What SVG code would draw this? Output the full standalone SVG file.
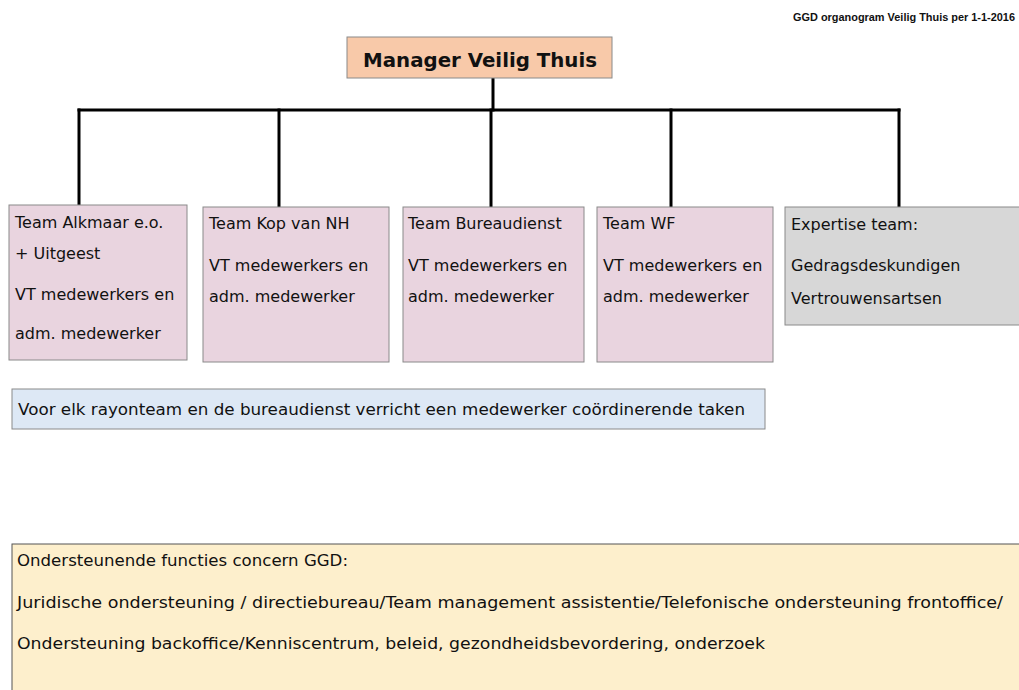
<svg xmlns="http://www.w3.org/2000/svg" width="1019" height="690" viewBox="0 0 1019 690">
<style>
  text { font-family: "DejaVu Sans", "Liberation Sans", sans-serif; fill: #111; }
  .t { font-size: 16px; }
  .b { font-size: 15.5px; }
  .box { stroke: #8a8a8a; stroke-width: 1; }
  .team { fill: #e9d4df; }
  .conn { stroke: #000; stroke-width: 3; fill: none; stroke-linecap: square; }
</style>
<rect width="1019" height="690" fill="#ffffff"/>
<text x="1015" y="21" text-anchor="end" style="font-family:'Liberation Sans', Arial, sans-serif" font-size="10.5" font-weight="bold" textLength="222" lengthAdjust="spacingAndGlyphs">GGD organogram Veilig Thuis per 1-1-2016</text>

<g id="connectors">
  <path class="conn" d="M493 79 V110"/>
  <path class="conn" d="M79 110 H899"/>
  <path class="conn" d="M79 110 V204"/>
  <path class="conn" d="M279 110 V206"/>
  <path class="conn" d="M491 110 V206"/>
  <path class="conn" d="M671 110 V206"/>
  <path class="conn" d="M899 110 V206"/>
</g>

<g id="manager">
  <rect class="box" x="347" y="37" width="265" height="41" fill="#f8c9a9"/>
  <text x="363" y="67" font-size="20" font-weight="bold" textLength="234" lengthAdjust="spacingAndGlyphs">Manager Veilig Thuis</text>
</g>

<g id="team-alkmaar">
  <rect class="box team" x="9" y="205" width="178" height="155"/>
  <text class="t" x="15" y="228">Team Alkmaar e.o.</text>
  <text class="t" x="15" y="259">+ Uitgeest</text>
  <text class="t" x="15" y="300">VT medewerkers en</text>
  <text class="t" x="15" y="339">adm. medewerker</text>
</g>

<g id="team-kop">
  <rect class="box team" x="203" y="207" width="186" height="155"/>
  <text class="t" x="209" y="229">Team Kop van NH</text>
  <text class="t" x="209" y="271">VT medewerkers en</text>
  <text class="t" x="209" y="302">adm. medewerker</text>
</g>

<g id="team-bureaudienst">
  <rect class="box team" x="403" y="207" width="181" height="155"/>
  <text class="t" x="408" y="229">Team Bureaudienst</text>
  <text class="t" x="408" y="271">VT medewerkers en</text>
  <text class="t" x="408" y="302">adm. medewerker</text>
</g>

<g id="team-wf">
  <rect class="box team" x="597" y="207" width="176" height="155"/>
  <text class="t" x="603" y="229">Team WF</text>
  <text class="t" x="603" y="271">VT medewerkers en</text>
  <text class="t" x="603" y="302">adm. medewerker</text>
</g>

<g id="expertise-team">
  <rect class="box" x="785" y="207" width="236" height="118" fill="#d7d7d7"/>
  <text class="t" x="791" y="230">Expertise team:</text>
  <text class="t" x="791" y="271">Gedragsdeskundigen</text>
  <text class="t" x="791" y="304">Vertrouwensartsen</text>
</g>

<g id="coordinatie">
  <rect class="box" x="12" y="389" width="753" height="40" fill="#dde8f5"/>
  <text class="b" x="18" y="415" textLength="727" lengthAdjust="spacingAndGlyphs">Voor elk rayonteam en de bureaudienst  verricht een medewerker coördinerende taken</text>
</g>

<g id="ondersteunende-functies">
  <rect x="12" y="544" width="1010" height="150" fill="#fdefcc" stroke="#555" stroke-width="1"/>
  <text class="b" x="17" y="566" textLength="331" lengthAdjust="spacingAndGlyphs">Ondersteunende functies concern GGD:</text>
  <text class="b" x="17" y="608" textLength="986" lengthAdjust="spacingAndGlyphs">Juridische ondersteuning / directiebureau/Team  management assistentie/Telefonische ondersteuning frontoffice/</text>
  <text class="b" x="17" y="649" textLength="748" lengthAdjust="spacingAndGlyphs">Ondersteuning backoffice/Kenniscentrum, beleid, gezondheidsbevordering, onderzoek</text>
</g>
</svg>
